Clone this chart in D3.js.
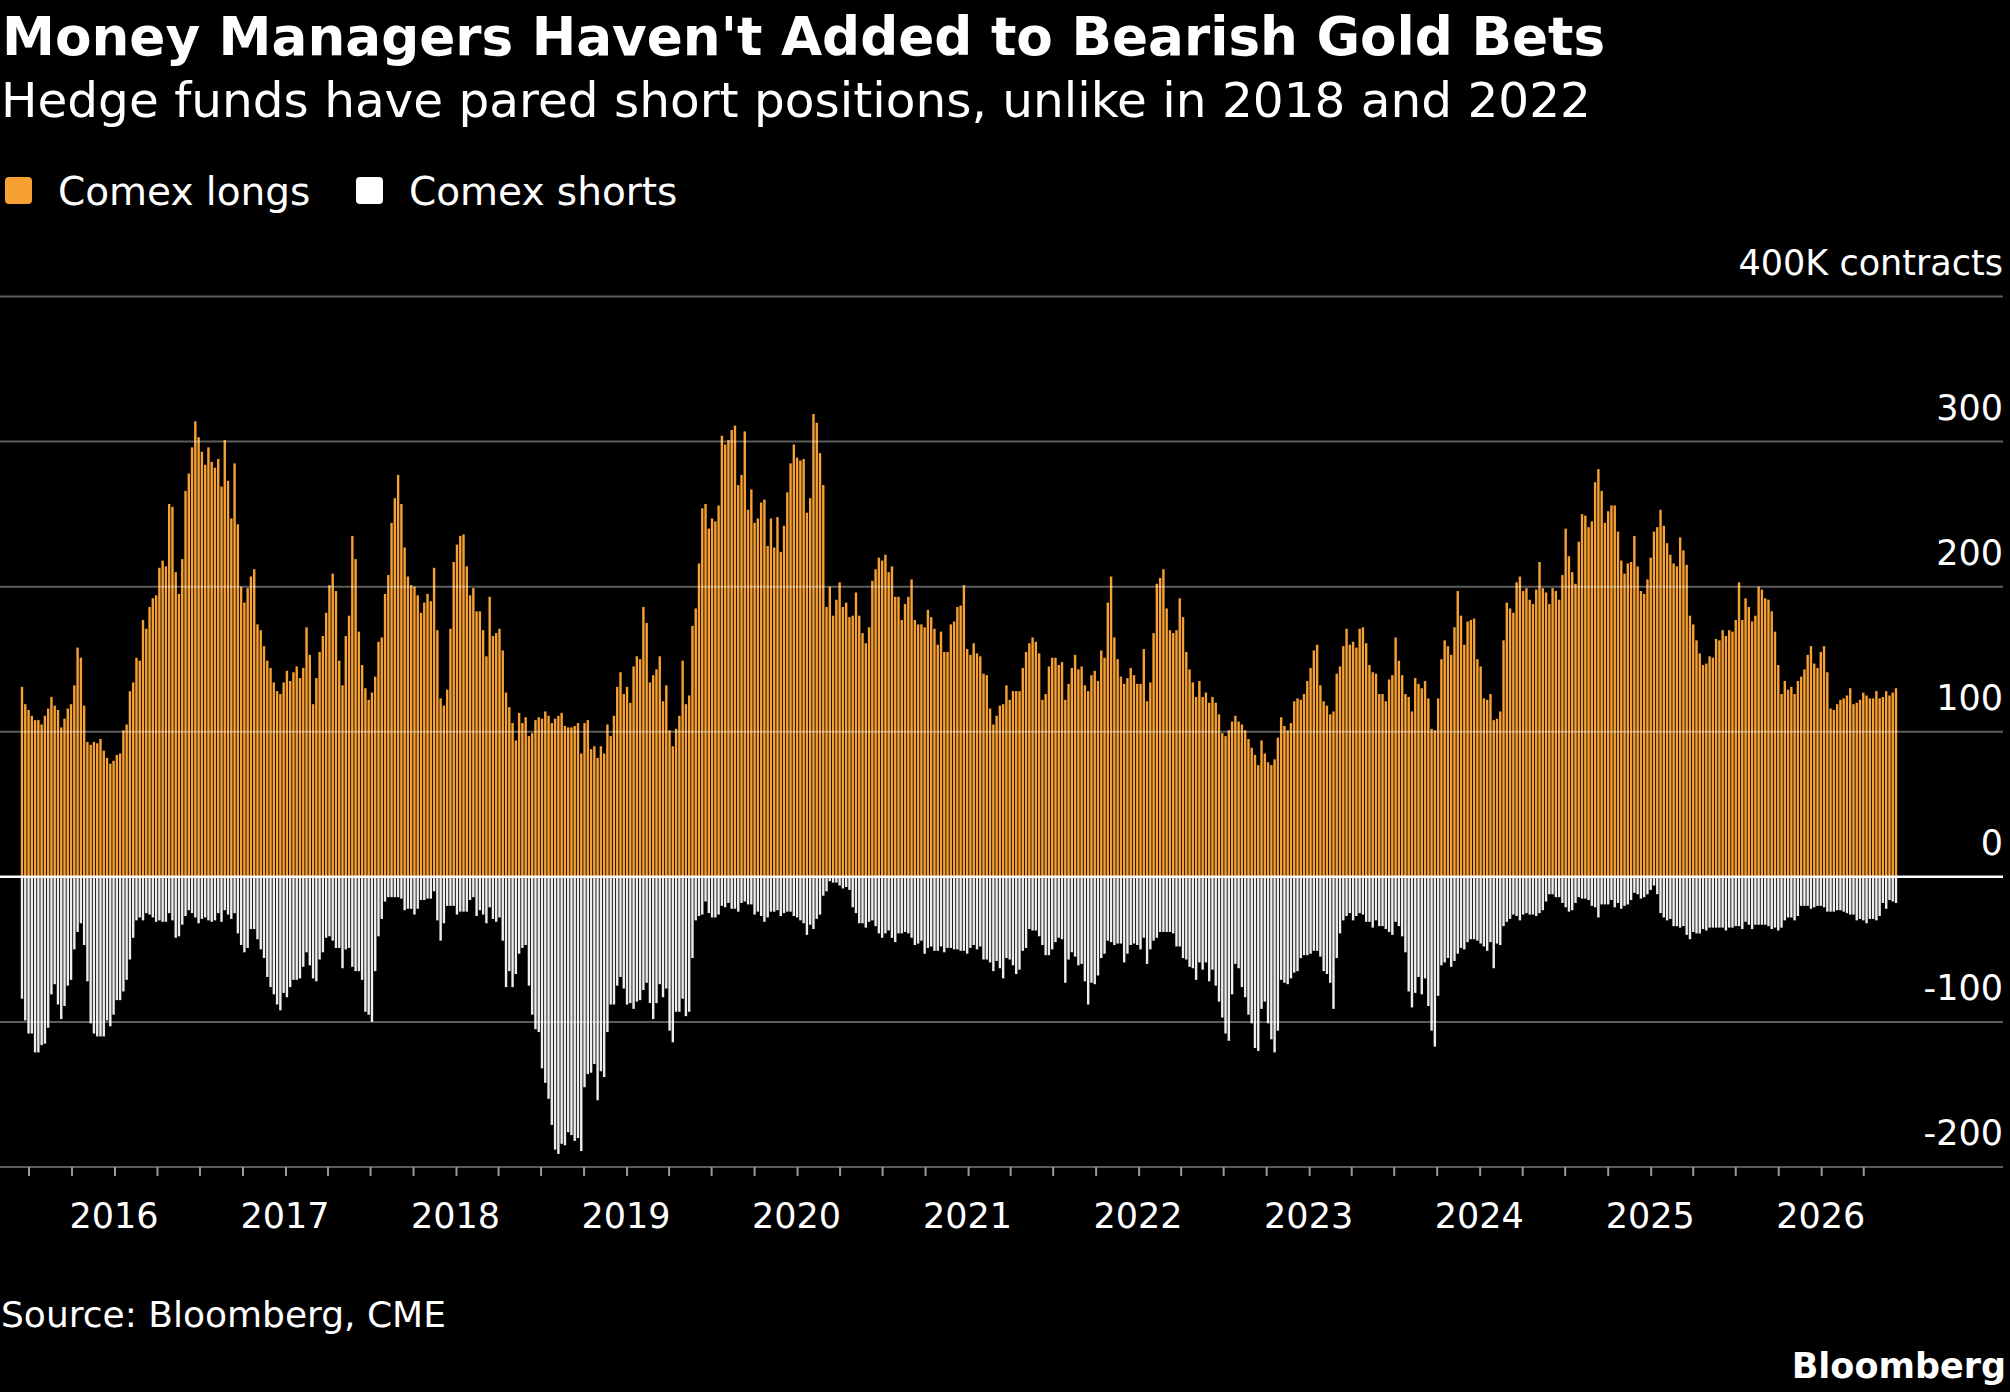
<!DOCTYPE html>
<html>
<head>
<meta charset="utf-8">
<script src="https://cdn.jsdelivr.net/npm/d3@7"></script>
<style>
  body { margin: 0; background: #000; }
  svg text { font-family: "DejaVu Sans", sans-serif; fill: #fff; }
</style>
</head>
<body>
<svg id="chart"></svg>
<script>
// === Data (weekly, thousand contracts) === //

var longs = [
  131,119,115,111,108,108,105,111,116,124,118,115,103,109,116,119,132,158,151,118,93,91,93,92,95,87,82,78,80,84,85,101,105,128,134,151,149,177,171,186,192,194,213,218,214,257,255,
  210,195,219,266,278,296,314,303,293,284,296,286,282,288,269,301,273,247,285,243,200,189,199,207,212,174,170,159,149,144,134,128,126,134,142,135,141,145,137,144,172,153,119,137,155,166,182,201,
  209,197,149,132,166,180,235,219,169,146,130,122,127,138,162,165,195,208,244,261,277,257,227,207,201,200,194,182,189,195,190,213,170,123,118,129,171,217,229,235,236,214,194,199,183,183,170,152,193,
  166,168,171,156,127,117,106,94,113,106,110,97,99,108,110,109,114,111,106,109,111,113,104,103,103,104,106,85,106,108,88,90,82,90,85,105,97,111,131,141,126,131,120,145,152,150,186,175,134,
  139,143,152,121,132,101,90,102,111,149,119,125,173,185,216,254,257,240,247,245,256,304,298,301,308,311,270,277,307,253,267,244,247,258,260,228,247,227,248,224,242,265,285,298,289,287,288,251,261,
  319,313,292,270,186,200,180,191,203,186,189,179,180,196,180,168,161,172,204,212,220,218,222,210,214,193,193,177,188,193,205,177,174,174,172,184,179,171,160,169,155,155,174,176,186,187,201,157,153,
  161,154,152,140,139,116,105,111,118,119,132,122,128,128,128,144,155,161,165,162,154,122,126,145,151,151,146,148,122,133,144,153,143,145,132,128,139,142,135,156,151,189,207,165,150,138,133,137,144,
  139,133,133,157,121,134,168,202,206,212,185,170,168,170,192,179,155,143,134,124,135,124,127,120,124,120,112,99,97,101,107,111,107,105,101,95,89,84,77,94,85,79,77,81,96,110,104,101,106,
  121,123,122,126,135,144,156,160,132,121,118,112,114,140,145,159,171,160,162,158,171,172,161,146,141,140,126,126,121,136,139,165,149,139,126,124,114,137,133,130,135,123,102,101,123,150,163,159,153,
  172,197,180,160,176,177,178,150,145,123,122,126,108,109,114,163,189,185,182,203,207,197,199,191,188,198,217,199,196,188,199,197,191,208,240,221,210,202,231,250,249,241,245,272,281,266,244,252,256,
  256,238,218,209,216,217,235,214,197,195,205,220,238,241,253,242,230,222,216,214,234,225,215,180,174,163,154,146,147,152,151,164,163,170,166,170,169,177,203,177,192,186,176,180,200,198,192,191,183,
  169,146,126,135,129,131,126,135,138,143,153,159,147,144,155,159,141,116,115,119,122,123,125,130,119,120,122,127,125,123,123,128,123,124,128,125,127,130
]

var shorts = [
  84,99,108,108,121,121,116,115,104,81,74,88,98,89,75,71,50,38,32,47,72,101,108,110,110,110,99,103,95,85,85,79,71,57,42,30,28,30,25,26,28,31,30,31,31,25,30,
  42,41,33,27,23,25,28,32,29,28,30,31,30,25,31,23,26,29,25,39,47,52,49,36,36,43,50,56,69,76,81,88,92,80,83,76,71,71,70,62,52,61,70,72,57,52,42,41,
  44,49,49,63,50,49,62,65,65,71,93,95,100,65,41,29,17,14,14,14,14,15,23,22,22,26,22,16,16,15,15,10,30,44,32,20,20,20,26,24,24,24,16,14,27,23,26,32,21,
  29,31,28,44,76,65,76,67,53,49,47,75,95,105,107,132,142,153,171,188,191,184,185,176,178,182,180,189,145,136,135,129,154,134,138,107,88,88,75,69,77,88,87,91,86,85,78,73,87,
  98,87,74,83,77,106,114,93,93,84,96,93,56,30,27,26,17,25,28,28,26,20,21,18,22,22,24,18,17,19,19,26,24,27,31,28,24,24,23,27,25,24,24,27,28,30,32,40,33,
  36,29,26,13,10,3,4,4,6,8,7,9,21,25,32,32,35,31,30,34,39,42,39,37,42,45,39,39,38,39,42,47,46,44,53,49,48,51,51,48,52,49,49,50,50,51,51,53,49,
  47,50,48,57,57,59,65,58,63,70,56,57,61,67,64,51,49,36,37,37,41,47,54,54,50,45,42,43,73,57,52,55,61,60,72,88,73,74,68,56,53,44,45,47,46,46,59,53,47,
  46,47,50,42,60,50,44,42,38,38,38,38,39,48,48,56,57,62,63,71,59,64,59,72,64,75,86,97,108,113,81,60,63,76,83,95,101,118,120,91,86,101,112,121,106,71,73,74,70,
  66,65,56,54,54,53,51,51,55,65,67,73,91,56,39,30,27,25,30,27,25,26,31,31,35,30,34,34,36,38,40,31,34,41,52,79,90,80,69,81,70,89,106,117,82,61,59,56,62,
  58,53,49,50,45,43,43,44,46,48,51,45,63,46,47,34,31,29,26,27,30,26,25,26,26,27,25,23,17,12,12,14,14,18,21,24,23,18,14,15,15,16,20,21,28,19,19,19,16,
  21,18,22,20,19,16,11,12,15,14,12,9,6,12,25,28,30,29,34,34,35,34,40,43,38,39,39,36,37,35,35,35,35,35,37,35,35,34,34,36,31,33,36,33,33,33,33,34,36,
  35,37,35,30,28,28,30,27,20,20,20,22,21,20,20,21,24,24,24,23,23,24,25,26,26,30,29,30,32,29,29,30,27,18,22,16,17,18
]

var firstWeek = new Date(2015, 5, 16)
var weeks = longs.map(function(d, i) { return d3.timeDay.offset(firstWeek, 7 * i) })

var yTicks = [-200, -100, 0, 100, 200, 300, 400]
var years = [2016, 2017, 2018, 2019, 2020, 2021, 2022, 2023, 2024, 2025, 2026]

// === Set up canvas === //

var width = 2010
var height = 1392

var plotLeft = 0
var plotRight = 2003
var barLeft = 22
var barRight = 1896
var barWidth = 2.4

var orange = "#f7a034"
var white = "#eeeeee"

var svg = d3.select("#chart")
  .attr("width", width)
  .attr("height", height)

svg.append("rect")
  .attr("width", width)
  .attr("height", height)
  .attr("fill", "#000")

var x = d3.scaleTime()
  .domain([weeks[0], weeks[weeks.length - 1]])
  .range([barLeft, barRight])

var y = d3.scaleLinear()
  .domain([-200, 400])
  .range([1167, 296.5])

// === Header === //

svg.append("text")
  .attr("x", 2)
  .attr("y", 55)
  .attr("font-size", 53.2)
  .attr("font-weight", "bold")
  .text("Money Managers Haven't Added to Bearish Gold Bets")

svg.append("text")
  .attr("x", 1)
  .attr("y", 117)
  .attr("font-size", 48.5)
  .text("Hedge funds have pared short positions, unlike in 2018 and 2022")

// legend
var legend = [
  { label: "Comex longs", color: orange, x: 5 },
  { label: "Comex shorts", color: "#fff", x: 356 }
]

var lg = svg.selectAll(".legend")
  .data(legend)
  .enter().append("g")
  .attr("class", "legend")
  .attr("transform", function(d) { return "translate(" + d.x + ",0)" })

lg.append("rect")
  .attr("y", 177)
  .attr("width", 27)
  .attr("height", 27)
  .attr("rx", 4)
  .attr("fill", function(d) { return d.color })

lg.append("text")
  .attr("x", 53)
  .attr("y", 205)
  .attr("font-size", 39)
  .text(function(d) { return d.label })

// === Bars === //

svg.append("g").selectAll("rect")
  .data(longs)
  .enter().append("rect")
  .attr("x", function(d, i) { return x(weeks[i]) - barWidth / 2 })
  .attr("y", function(d) { return y(d) })
  .attr("width", barWidth)
  .attr("height", function(d) { return y(0) - y(d) })
  .attr("fill", orange)

svg.append("g").selectAll("rect")
  .data(shorts)
  .enter().append("rect")
  .attr("x", function(d, i) { return x(weeks[i]) - barWidth / 2 })
  .attr("y", y(0))
  .attr("width", barWidth)
  .attr("height", function(d) { return y(-d) - y(0) })
  .attr("fill", white)

// === Grid + y labels === //

svg.append("g").selectAll("line")
  .data(yTicks.filter(function(d) { return d !== 0 }))
  .enter().append("line")
  .attr("x1", plotLeft)
  .attr("x2", plotRight)
  .attr("y1", function(d) { return y(d) })
  .attr("y2", function(d) { return y(d) })
  .attr("stroke", "#fff")
  .attr("stroke-opacity", 0.36)
  .attr("stroke-width", 2)

svg.append("line")
  .attr("x1", plotLeft)
  .attr("x2", plotRight)
  .attr("y1", y(0))
  .attr("y2", y(0))
  .attr("stroke", "#fff")
  .attr("stroke-width", 2.5)

svg.append("g").selectAll("text")
  .data(yTicks)
  .enter().append("text")
  .attr("x", plotRight)
  .attr("y", function(d) { return y(d) - 22 })
  .attr("text-anchor", "end")
  .attr("font-size", 35)
  .text(function(d) { return d === 400 ? "400K contracts" : d })

// === X axis === //

var quarterTicks = d3.timeMonth.every(3).range(d3.timeMonth.ceil(weeks[0]), weeks[weeks.length - 1])

svg.append("g").selectAll("line")
  .data(quarterTicks)
  .enter().append("line")
  .attr("x1", function(d) { return x(d) })
  .attr("x2", function(d) { return x(d) })
  .attr("y1", y(-200))
  .attr("y2", y(-200) + 9)
  .attr("stroke", "#999")
  .attr("stroke-width", 2)

svg.append("g").selectAll("text")
  .data(years)
  .enter().append("text")
  .attr("x", function(d) { return x(new Date(d, 0, 1)) - 1 })
  .attr("y", 1228)
  .attr("text-anchor", "middle")
  .attr("font-size", 35)
  .text(function(d) { return d })

// === Footer === //

svg.append("text")
  .attr("x", 1)
  .attr("y", 1327)
  .attr("font-size", 36)
  .text("Source: Bloomberg, CME")

svg.append("text")
  .attr("x", 2006)
  .attr("y", 1378)
  .attr("text-anchor", "end")
  .attr("font-size", 35)
  .attr("font-weight", "bold")
  .text("Bloomberg")
</script>
</body>
</html>
